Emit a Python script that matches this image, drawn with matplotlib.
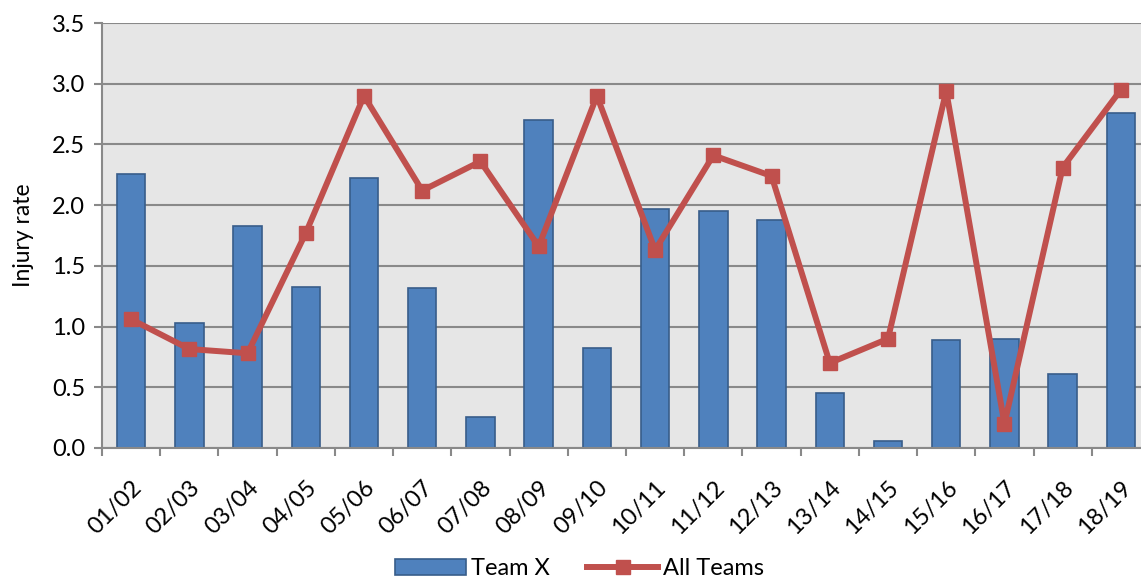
import matplotlib.pyplot as plt
import numpy as np

seasons = ["01/02", "02/03", "03/04", "04/05", "05/06", "06/07", "07/08", "08/09",
           "09/10", "10/11", "11/12", "12/13", "13/14", "14/15", "15/16", "16/17",
           "17/18", "18/19"]
team_x = [2.26, 1.03, 1.83, 1.33, 2.22, 1.32, 0.255, 2.70, 0.82, 1.97, 1.95, 1.88,
          0.45, 0.055, 0.89, 0.90, 0.61, 2.76]
all_teams = [1.06, 0.815, 0.78, 1.77, 2.90, 2.12, 2.36, 1.66, 2.90, 1.63, 2.41, 2.24,
             0.70, 0.90, 2.94, 0.20, 2.31, 2.95]

plt.rcParams['font.family'] = ['Lato', 'DejaVu Sans']

fig = plt.figure(figsize=(11.41, 5.84), dpi=100)
ax = fig.add_axes([102 / 1141, 136 / 584, 1048 / 1141, 425 / 584])

x = np.arange(len(seasons))
ax.set_facecolor("#E6E6E6")
bars = ax.bar(x, team_x, width=0.49, color="#4F81BD", edgecolor="#385D8A",
              linewidth=1.2, label="Team X", zorder=2)
line, = ax.plot(x, all_teams, color="#C0504D", linewidth=4.3, marker="s",
                markersize=10, label="All Teams", zorder=3)

ax.set_xlim(-0.5, len(seasons) - 0.5)
ax.set_ylim(0, 3.5)
ax.set_yticks(np.arange(0, 3.51, 0.5))
ax.set_yticklabels([f"{v:.1f}" for v in np.arange(0, 3.51, 0.5)])
ax.yaxis.grid(True, color="#898989", linewidth=1.5, zorder=1)
ax.set_axisbelow(True)

# ticks between categories on x
ax.set_xticks(np.arange(-0.5, len(seasons), 1.0), minor=False)
ax.set_xticklabels([])
ax.set_xticks(x, minor=True)
ax.set_xticklabels(seasons, minor=True, rotation=45, ha="right",
                   rotation_mode="anchor", fontsize=17)
ax.tick_params(axis="x", which="minor", length=0, pad=21)
ax.tick_params(axis="x", which="major", length=6, width=1.5, color="#898989")
ax.tick_params(axis="y", length=6, width=1.5, color="#898989", labelsize=17, pad=6)

for side in ["top", "right"]:
    ax.spines[side].set_visible(False)
for side in ["left", "bottom"]:
    ax.spines[side].set_color("#898989")
    ax.spines[side].set_linewidth(1.5)

ax.set_ylabel("Injury rate", fontsize=16.5, labelpad=13)

fig.legend([bars, line], ["Team X", "All Teams"], loc="center",
           bbox_to_anchor=(0.508, 0.026), ncol=2, frameon=False,
           fontsize=17, handlelength=3.0, columnspacing=1.6, handletextpad=0.2)

fig.savefig("out.png", dpi=100)
